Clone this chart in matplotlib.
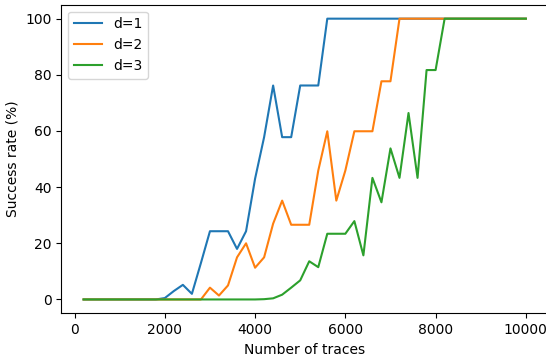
import numpy as np
import matplotlib
matplotlib.use("Agg")
import matplotlib.pyplot as plt

# number of traces: 200 .. 10000 step 200
traces = np.arange(200, 10001, 200)

d1 = [0]*9 + [0.5, 3, 5.2, 2, 13, 24.3, 24.3, 24.3, 18, 24.3, 43, 57.8, 76.2, 57.8, 57.8,
              76.2, 76.2, 76.2] + [100]*23
d2 = [0]*14 + [4.2, 1.4, 5, 15, 20, 11.3, 15, 27, 35.2, 26.6, 26.6, 26.6, 45.9, 59.9,
               35.2, 45.9, 59.9, 59.9, 59.9, 77.7, 77.7] + [100]*15
d3 = [0]*20 + [0.1, 0.4, 1.7, 4.2, 6.8, 13.6, 11.5, 23.4, 23.4, 23.4, 27.9, 15.7, 43.3,
               34.6, 53.8, 43.3, 66.4, 43.3, 81.7, 81.7] + [100]*10

fig = plt.figure(figsize=(5.46, 3.56), dpi=100)
ax = fig.add_axes([0.1126, 0.1194, 0.891, 0.8676])
ax.plot(traces, d1, label="d=1")
ax.plot(traces, d2, label="d=2")
ax.plot(traces, d3, label="d=3")
ax.set_xlabel("Number of traces")
ax.set_ylabel("Success rate (%)")
ax.legend(loc="upper left")
fig.savefig("out.png")
